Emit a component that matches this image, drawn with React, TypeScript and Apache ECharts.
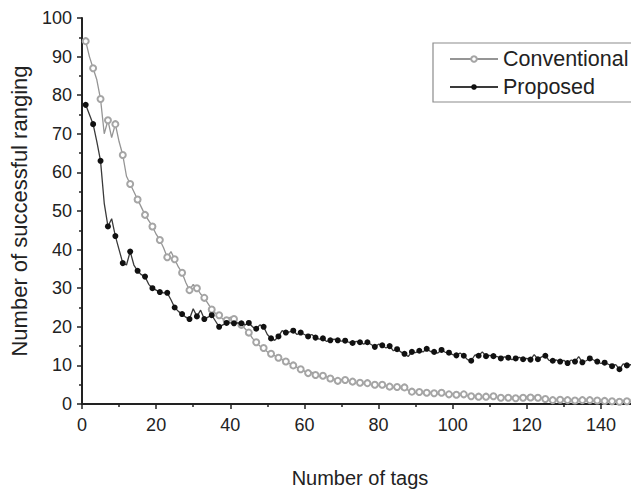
import React, { useEffect, useRef } from "react";
import * as echarts from "echarts";

// x = 1..150 (number of tags)
const conventional: number[] = [
  94, 90, 87, 84, 79, 70, 73.5, 69, 72.5, 68,
  64.5, 59, 57, 55, 53, 51, 49, 47.5, 46, 44,
  42.5, 40.5, 38, 39.5, 37.5, 35.5, 34, 31.5, 29.5, 31,
  30, 28.5, 27.5, 26, 24.5, 23.5, 23, 22, 21.7, 22.5,
  22, 21, 20.5, 19.5, 18.5, 17, 16, 15, 14.5, 13.5,
  13, 12.5, 12, 11.5, 11, 10.5, 10, 9.5, 9, 8.5,
  8, 8.2, 7.5, 7.2, 7.3, 7, 6.6, 6.5, 6, 6.3,
  6.2, 6, 5.8, 5.6, 5.5, 5.3, 5.4, 5, 5, 4.8,
  5, 4.6, 4.5, 4.3, 4.4, 4.2, 4.3, 3.6, 3.2, 3,
  3.1, 3, 2.9, 3, 2.8, 2.7, 2.9, 2.6, 2.5, 2.6,
  2.4, 2.3, 2.5, 2.2, 2.0, 2.1, 1.9, 1.8, 1.9, 1.8,
  2, 1.7, 1.6, 1.8, 1.6, 1.7, 1.5, 1.8, 1.6, 1.9,
  1.7, 2.0, 1.6, 1.5, 1.3, 1.1, 1.0, 1.2, 1.1, 1.3,
  1.0, 1.1, 0.9, 1.2, 1.0, 0.9, 1.0, 0.8, 0.9, 1.0,
  0.8, 0.9, 0.7, 0.8, 0.6, 0.9, 0.7, 0.6, 0.8, 0.7,
];

const proposed: number[] = [
  77.5, 75, 72.5, 68, 63, 52, 46, 48, 43.5, 40,
  36.5, 36, 39.5, 36, 34.5, 33.5, 33, 31, 30, 29.5,
  29, 28.8, 28.8, 27, 25, 24, 23.3, 22.5, 22, 24.7,
  22.7, 24.3, 22, 22.5, 23, 21.5, 20, 20.5, 21, 21,
  20.9, 21, 20.9, 20.5, 21, 20, 19.5, 20.5, 20, 18,
  17, 16.5, 17.5, 19, 18.5, 18.7, 19, 18, 18.5, 18,
  17.5, 18, 17.2, 16.8, 17, 16.2, 16.5, 16.8, 16.5, 16.3,
  16.4, 16, 15.8, 16.2, 16, 15.5, 16, 15.4, 14.8, 15.5,
  15.2, 14.5, 15, 13.8, 14.2, 13.5, 13, 12.3, 13.5, 13.3,
  13.8, 13.5, 14.3, 13.6, 13.5, 13.2, 14, 13.4, 13.3, 12.8,
  12.6, 13.2, 12.5, 11.5, 11.2, 12.7, 12.5, 13.5, 12.4, 12.6,
  12.4, 12.3, 11.8, 12.2, 12, 11.5, 11.8, 12.1, 11.6, 11.8,
  11.5, 12.8, 11.6, 12.2, 12.5, 11.3, 11.2, 11.4, 11, 11.3,
  10.6, 11.4, 11, 12.3, 10.8, 11.2, 11.8, 11.4, 11, 10.5,
  10.7, 10.3, 9.8, 10.2, 9, 10.4, 10, 10.2, 9.6, 9.5,
];

const xValues: number[] = conventional.map((_, i) => i + 1);

const seriesNames = ["Conventional", "Proposed"];
const xTitle = "Number of tags";
const yTitle = "Number of successful ranging";

const FONT = "Liberation Sans, Arial, sans-serif";

export default function App() {
  const ref = useRef<HTMLDivElement>(null);

  useEffect(() => {
    if (!ref.current) return;
    const chart = echarts.init(ref.current, null, { renderer: "svg" });
    const markEveryOther = (_v: any, p: any) => (p.dataIndex % 2 === 0 ? 6 : 0);

    chart.setOption({
      animation: false,
      backgroundColor: "#ffffff",
      textStyle: { fontFamily: FONT },
      grid: { left: 80, right: 1, top: 18, bottom: 94, containLabel: false },
      legend: {
        left: 433,
        top: 43,
        orient: "vertical",
        backgroundColor: "#fff",
        borderColor: "#8c8c8c",
        borderWidth: 1.2,
        borderRadius: 0,
        padding: [5, 10, 4, 16],
        itemWidth: 48,
        itemHeight: 7,
        itemGap: 6,
        itemTextGap: 7,
        textStyle: { fontSize: 21.5, color: "#222", fontFamily: FONT },
        data: seriesNames,
      },
      xAxis: {
        type: "value",
        min: 0,
        max: 150,
        interval: 20,
        name: xTitle,
        nameLocation: "middle",
        nameGap: 64,
        nameTextStyle: { fontSize: 20, color: "#222", fontFamily: FONT },
        axisLine: { onZero: false, lineStyle: { color: "#222", width: 2 } },
        axisTick: { show: true, length: 5, lineStyle: { color: "#222", width: 1.5 } },
        minorTick: { show: true, splitNumber: 2, length: 3, lineStyle: { color: "#222", width: 1.5 } },
        axisLabel: { fontSize: 18, color: "#222", margin: 12, showMaxLabel: false, fontFamily: FONT },
        splitLine: { show: false },
      },
      yAxis: {
        type: "value",
        min: 0,
        max: 100,
        interval: 10,
        name: yTitle,
        nameLocation: "middle",
        nameGap: 52,
        nameRotate: 90,
        nameTextStyle: { fontSize: 22, color: "#222", fontFamily: FONT },
        axisLine: { onZero: false, lineStyle: { color: "#222", width: 2 } },
        axisTick: { show: true, length: 5, lineStyle: { color: "#222", width: 1.5 } },
        minorTick: { show: true, splitNumber: 2, length: 3, lineStyle: { color: "#222", width: 1.5 } },
        axisLabel: { fontSize: 18, color: "#222", margin: 10, fontFamily: FONT },
        splitLine: { show: false },
      },
      series: [
        {
          name: seriesNames[0],
          type: "line",
          data: xValues.map((x, i) => [x, conventional[i]]),
          symbol: "emptyCircle",
          symbolSize: markEveryOther,
          showAllSymbol: true,
          lineStyle: { color: "#959595", width: 1.3 },
          itemStyle: { color: "#a5a5a5", borderColor: "#a5a5a5", borderWidth: 1 },
          z: 2,
        },
        {
          name: seriesNames[1],
          type: "line",
          data: xValues.map((x, i) => [x, proposed[i]]),
          symbol: "circle",
          symbolSize: markEveryOther,
          showAllSymbol: true,
          lineStyle: { color: "#3a3a3a", width: 1.3 },
          itemStyle: { color: "#111" },
          z: 3,
        },
      ],
    });
    return () => chart.dispose();
  }, []);

  return <div ref={ref} style={{ width: 639, height: 498, margin: -8 }} />;
}
